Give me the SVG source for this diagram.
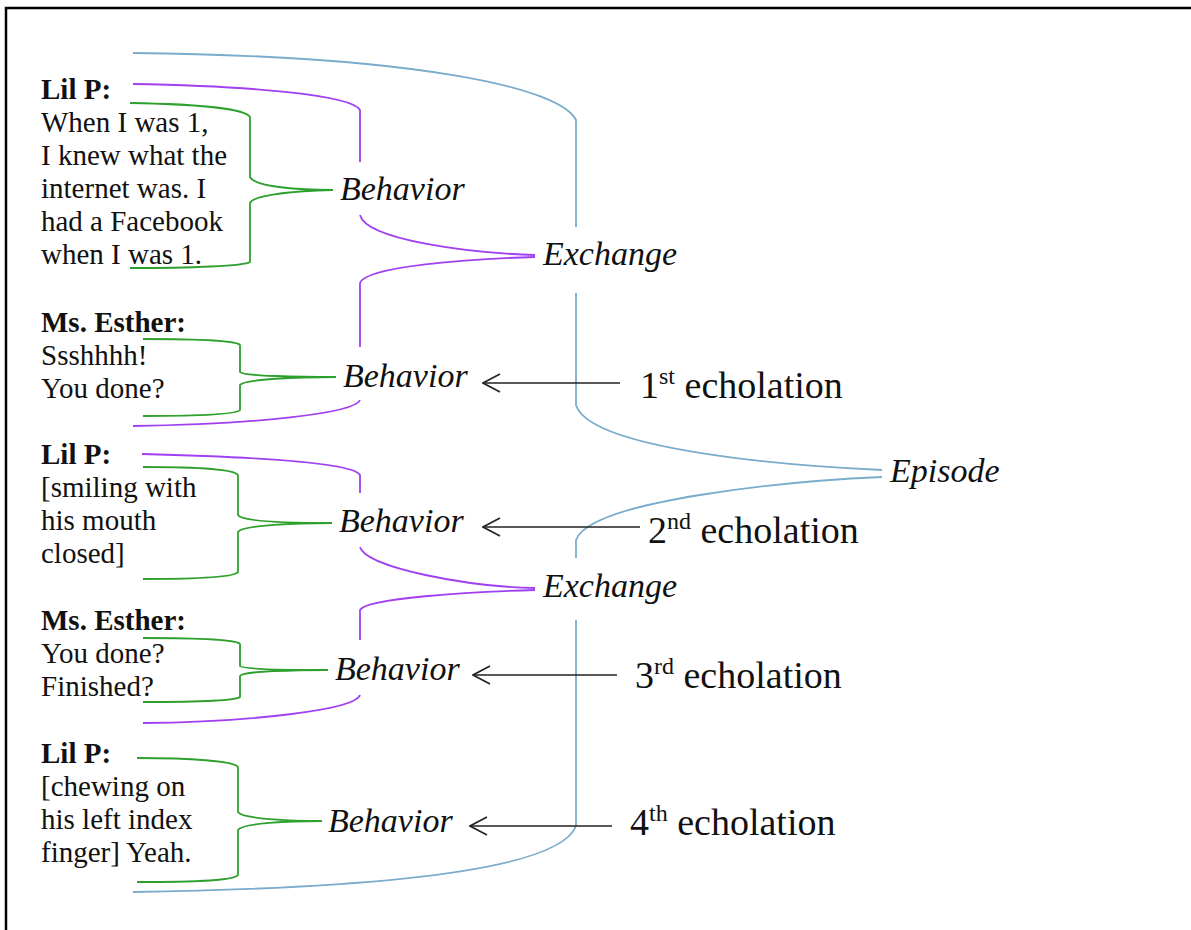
<svg xmlns="http://www.w3.org/2000/svg" width="1191" height="930" viewBox="0 0 1191 930">
  <style>
    .txt { font-family: "Liberation Serif", "Times New Roman", serif; font-size: 29px; fill: #111; }
    .spk { font-weight: bold; }
    .lvl { font-family: "Liberation Serif", "Times New Roman", serif; font-size: 34px; font-style: italic; fill: #111; }
    .echo { font-family: "Liberation Serif", "Times New Roman", serif; font-size: 38px; fill: #111; }
    .episode { fill: none; stroke: #7aaccc; stroke-width: 1.8; }
    .exchange { fill: none; stroke: #a040f0; stroke-width: 1.8; }
    .behavior { fill: none; stroke: #2ea02e; stroke-width: 1.8; }
    .arrow { fill: none; stroke: #222; stroke-width: 1.6; }
  </style>
  <defs>
    <marker id="chevron" viewBox="0 0 20 20" refX="19" refY="10" markerWidth="20" markerHeight="20" markerUnits="userSpaceOnUse" orient="auto">
      <path d="M2,1 L19,10 L2,19" fill="none" stroke="#222" stroke-width="1.6"/>
    </marker>
  </defs>

  <rect width="1191" height="930" fill="#ffffff"/>
  <!-- frame -->
  <path d="M6,940 L6,8 L1200,8" fill="none" stroke="#000" stroke-width="2.5"/>

  <g id="connectors">
    <!-- episode brace -->
    <path class="episode" d="M133,53 C420,56 560,88 576,120 L576,227"/>
    <path class="episode" d="M576,293 L576,405 C590,450 790,466 882,470"/>
    <path class="episode" d="M882,477 C790,481 590,500 576,540 L576,558"/>
    <path class="episode" d="M576,620 L576,826 C560,868 400,888 133,892"/>

    <!-- exchange braces -->
    <path class="exchange" d="M133,84 C250,86 352,95 360,110 L360,162"/>
    <path class="exchange" d="M360,215 C366,240 470,253 535,255"/>
    <path class="exchange" d="M535,257 C470,259 366,266 360,283 L360,347"/>
    <path class="exchange" d="M360,400 C355,413 260,424 133,426"/>

    <path class="exchange" d="M142,454 C260,457 354,463 360,475 L360,493"/>
    <path class="exchange" d="M360,547 C366,568 470,587 535,588"/>
    <path class="exchange" d="M535,590 C470,592 366,598 360,610 L360,640"/>
    <path class="exchange" d="M360,695 C355,710 250,722 143,723"/>

    <!-- behavior braces -->
    <path class="behavior" d="M130,103 C190,104 245,108 250,117 L250,177 C255,187 300,190 333,190 C300,191 255,194 250,203 L250,262 C245,266 190,268 130,268"/>
    <path class="behavior" d="M143,339 C190,339 236,340 240,345 L240,372 C243,376 300,377 336,377 C300,377 243,379 240,385 L240,410 C236,415 190,416 143,416"/>
    <path class="behavior" d="M143,467 C190,467 234,469 238,475 L238,515 C242,522 300,523 332,523 C300,523 242,525 238,532 L238,572 C234,578 190,579 143,579"/>
    <path class="behavior" d="M143,638 C190,638 236,639 240,644 L240,666 C243,670 300,670 328,670 C300,670 243,671 240,676 L240,697 C236,701 190,702 143,702"/>
    <path class="behavior" d="M137,758 C190,758 234,761 238,767 L238,812 C242,819 290,821 322,821 C290,821 242,823 238,830 L238,875 C234,881 190,882 137,882"/>

    <!-- echolation arrows -->
    <path class="arrow" d="M620,383 L483,383" marker-end="url(#chevron)"/>
    <path class="arrow" d="M640,527 L483,527" marker-end="url(#chevron)"/>
    <path class="arrow" d="M617,675 L473,675" marker-end="url(#chevron)"/>
    <path class="arrow" d="M612,826 L470,826" marker-end="url(#chevron)"/>
  </g>

  <!-- utterances -->
  <g id="utt1" class="txt">
    <text x="41" y="99" class="spk">Lil P:</text>
    <text x="41" y="132">When I was 1,</text>
    <text x="41" y="165">I knew what the</text>
    <text x="41" y="198">internet was. I</text>
    <text x="41" y="231">had a Facebook</text>
    <text x="41" y="264">when I was 1.</text>
  </g>
  <g id="utt2" class="txt">
    <text x="41" y="332" class="spk">Ms. Esther:</text>
    <text x="41" y="365">Ssshhhh!</text>
    <text x="41" y="398">You done?</text>
  </g>
  <g id="utt3" class="txt">
    <text x="41" y="464" class="spk">Lil P:</text>
    <text x="41" y="497">[smiling with</text>
    <text x="41" y="530">his mouth</text>
    <text x="41" y="563">closed]</text>
  </g>
  <g id="utt4" class="txt">
    <text x="41" y="630" class="spk">Ms. Esther:</text>
    <text x="41" y="663">You done?</text>
    <text x="41" y="696">Finished?</text>
  </g>
  <g id="utt5" class="txt">
    <text x="41" y="763" class="spk">Lil P:</text>
    <text x="41" y="796">[chewing on</text>
    <text x="41" y="829">his left index</text>
    <text x="41" y="862">finger] Yeah.</text>
  </g>

  <!-- behaviors -->
  <g id="behavior1"><text class="lvl" x="340" y="200">Behavior</text></g>
  <g id="behavior2"><text class="lvl" x="343" y="387">Behavior</text></g>
  <g id="behavior3"><text class="lvl" x="339" y="532">Behavior</text></g>
  <g id="behavior4"><text class="lvl" x="335" y="680">Behavior</text></g>
  <g id="behavior5"><text class="lvl" x="328" y="832">Behavior</text></g>

  <!-- exchanges and episode -->
  <g id="exchange1"><text class="lvl" x="543" y="265">Exchange</text></g>
  <g id="exchange2"><text class="lvl" x="543" y="597">Exchange</text></g>
  <g id="episode"><text class="lvl" x="890" y="482">Episode</text></g>

  <!-- echolation labels -->
  <g id="echo1"><text class="echo" x="640" y="398">1<tspan dy="-14" font-size="24">st</tspan><tspan dy="14"> echolation</tspan></text></g>
  <g id="echo2"><text class="echo" x="648" y="543">2<tspan dy="-14" font-size="24">nd</tspan><tspan dy="14"> echolation</tspan></text></g>
  <g id="echo3"><text class="echo" x="635" y="688">3<tspan dy="-14" font-size="24">rd</tspan><tspan dy="14"> echolation</tspan></text></g>
  <g id="echo4"><text class="echo" x="630" y="835">4<tspan dy="-14" font-size="24">th</tspan><tspan dy="14"> echolation</tspan></text></g>
</svg>
